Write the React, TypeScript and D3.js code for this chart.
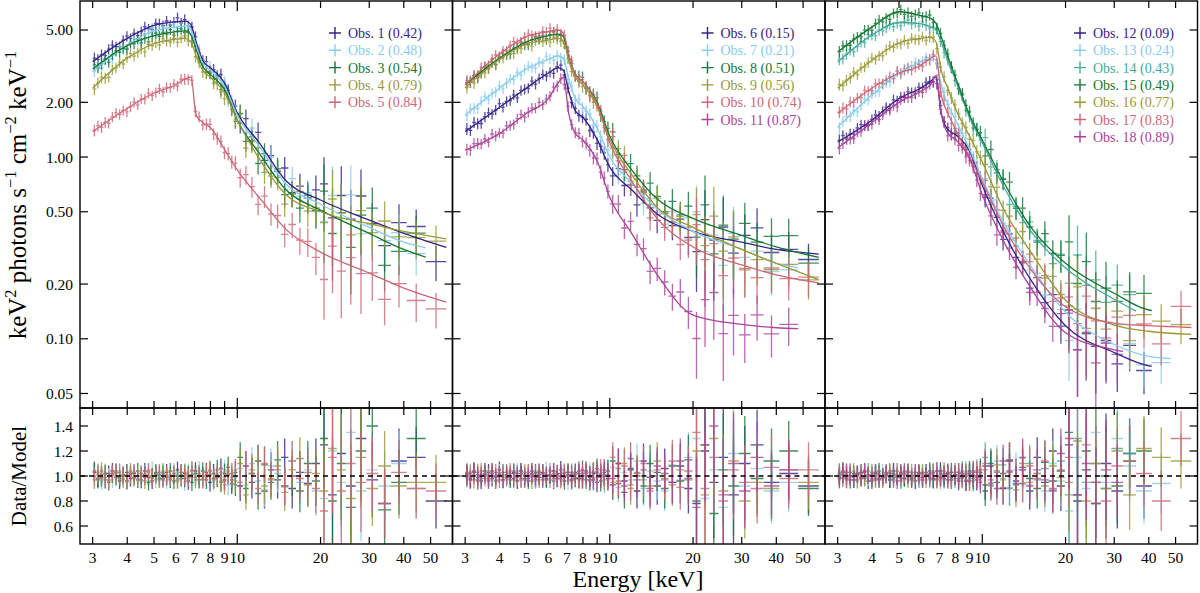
import React from 'react';
import * as d3 from 'd3';

const FONT = '"Liberation Serif", "DejaVu Serif", serif';

// energy bin edges (keV), shared by all observations
const binEdges = [
  3.00, 3.09, 3.18, 3.28, 3.38, 3.48, 3.59, 3.70, 3.81, 3.93, 4.05, 4.17, 4.30, 4.43, 4.56, 4.70,
  4.85, 5.00, 5.15, 5.31, 5.47, 5.64, 5.81, 5.99, 6.17, 6.36, 6.55, 6.75, 6.96, 7.17, 7.39, 7.62,
  7.85, 8.09, 8.34, 8.60, 8.86, 9.13, 9.41, 9.70, 10.0, 10.5, 11.0, 11.6, 12.2, 12.9, 13.6, 14.4,
  15.3, 16.3, 17.4, 18.6, 19.9, 21.3, 22.9, 24.7, 26.8, 29.3, 32.3, 36.0, 41.0, 48.0, 57.0,
];

// fractional error per bin
const relErr = [
  0.075, 0.07, 0.07, 0.07, 0.065, 0.065, 0.065, 0.065, 0.065, 0.065,
  0.065, 0.065, 0.065, 0.065, 0.065, 0.065, 0.065, 0.065, 0.065, 0.065,
  0.065, 0.065, 0.065, 0.065, 0.065, 0.07, 0.07, 0.07, 0.07, 0.07,
  0.07, 0.075, 0.075, 0.075, 0.08, 0.08, 0.08, 0.085, 0.085, 0.09,
  0.12, 0.12, 0.13, 0.13, 0.14, 0.14, 0.15, 0.15, 0.16, 0.17,
  0.18, 0.2, 0.4, 0.45, 0.45, 0.45, 0.4, 0.3, 0.28, 0.26,
  0.24, 0.22,
];

// energies where the model curves were read
const modelE = [3, 4, 5, 6, 6.5, 6.8, 7.1, 7.5, 8, 9, 10, 12, 15, 20, 30, 40, 60];

const model01 = [3.35, 4.5, 5.3, 5.55, 5.6, 5.35, 4.3, 3.4, 3.1, 2.55, 1.75, 1.2, 0.74, 0.58, 0.45, 0.38, 0.31];
const model02 = [2.95, 4.15, 4.95, 5.2, 5.25, 5.0, 4.1, 3.3, 3.0, 2.45, 1.7, 1.15, 0.71, 0.55, 0.41, 0.34, 0.29];
const model03 = [3.05, 4.1, 4.65, 4.9, 4.95, 4.7, 3.9, 3.15, 2.85, 2.35, 1.6, 1.05, 0.66, 0.51, 0.38, 0.31, 0.25];
const model04 = [2.39, 3.5, 4.2, 4.45, 4.5, 4.3, 3.6, 3.0, 2.75, 2.25, 1.6, 0.98, 0.62, 0.5, 0.43, 0.39, 0.35];
const model05 = [1.38, 1.85, 2.25, 2.5, 2.7, 2.75, 1.7, 1.55, 1.45, 1.1, 0.85, 0.6, 0.4, 0.3, 0.23, 0.19, 0.155];
const model06 = [1.38, 1.88, 2.4, 2.9, 3.1, 3.0, 2.3, 1.8, 1.65, 1.25, 0.88, 0.66, 0.48, 0.39, 0.34, 0.31, 0.29];
const model07 = [1.7, 2.4, 3.05, 3.45, 3.6, 3.5, 2.7, 2.1, 1.9, 1.45, 1.0, 0.72, 0.51, 0.39, 0.31, 0.26, 0.23];
const model08 = [2.5, 3.5, 4.3, 4.65, 4.75, 4.6, 3.6, 2.85, 2.6, 2.0, 1.3, 0.85, 0.58, 0.46, 0.37, 0.32, 0.275];
const model09 = [2.4, 3.45, 4.2, 4.4, 4.5, 4.35, 3.4, 2.75, 2.5, 1.9, 1.25, 0.8, 0.52, 0.41, 0.31, 0.26, 0.205];
const model10 = [2.5, 3.7, 4.6, 4.9, 5.0, 4.8, 3.7, 2.85, 2.6, 1.95, 1.2, 0.74, 0.45, 0.32, 0.255, 0.225, 0.2];
const model11 = [1.09, 1.35, 1.74, 2.1, 2.55, 2.75, 1.75, 1.35, 1.24, 0.95, 0.6, 0.38, 0.22, 0.135, 0.12, 0.115, 0.112];
const model12 = [1.21, 1.6, 2.1, 2.4, 2.6, 2.75, 1.75, 1.42, 1.33, 1.08, 0.7, 0.38, 0.21, 0.118, 0.084, 0.071, 0.065];
const model13 = [1.46, 2.2, 2.9, 3.35, 3.55, 3.4, 2.5, 1.95, 1.6, 1.1, 0.76, 0.43, 0.25, 0.14, 0.093, 0.08, 0.075];
const model14 = [3.33, 4.7, 5.5, 5.4, 5.2, 5.0, 4.3, 3.4, 2.65, 1.65, 1.2, 0.68, 0.39, 0.245, 0.165, 0.13, 0.115];
const model15 = [3.78, 5.2, 6.3, 6.0, 5.8, 5.45, 4.6, 3.6, 2.75, 1.7, 1.24, 0.72, 0.41, 0.26, 0.178, 0.144, 0.13];
const model16 = [2.39, 3.42, 4.24, 4.5, 4.55, 4.3, 3.0, 2.4, 1.85, 1.3, 0.94, 0.51, 0.3, 0.163, 0.119, 0.11, 0.105];
const model17 = [1.74, 2.4, 2.9, 3.2, 3.5, 3.6, 2.2, 1.75, 1.42, 1.0, 0.73, 0.41, 0.24, 0.15, 0.122, 0.118, 0.115];
const model18 = [1.12, 1.55, 2.0, 2.3, 2.5, 2.8, 1.75, 1.35, 1.25, 0.98, 0.62, 0.34, 0.19, 0.108, 0.087, 0.08, 0.075];

// data/model per bin (array length = number of bins of that observation)
const ratio01 = [
  1.03, 0.98, 1.01, 0.97, 1.02, 1.04, 0.99, 0.96, 1.01, 1.03, 0.98, 1.02, 0.97, 1.00, 1.04, 0.99, 0.96, 1.02, 1.01, 0.98,
  1.03, 0.97, 1.00, 1.05, 0.98, 1.02, 0.96, 1.01, 1.04, 0.97, 1.00, 1.03, 0.95, 1.02, 0.99, 1.06, 0.97, 1.01, 0.94, 1.03,
  0.92, 1.08, 0.95, 1.12, 0.88, 1.05, 0.97, 1.15, 0.90, 1.03, 0.94, 1.10, 1.25, 0.85, 1.18, 0.92, 1.30, 0.97, 0.78, 1.12,
  1.15, 0.80,
];
const ratio02 = [
  0.99, 1.02, 0.96, 1.03, 1.00, 0.97, 1.02, 1.04, 0.98, 0.95, 1.01, 1.03, 0.98, 0.96, 1.02, 1.00, 1.05, 0.97, 0.99, 1.03,
  0.96, 1.01, 1.04, 0.98, 1.00, 0.95, 1.03, 0.99, 1.02, 1.05, 0.97, 0.99, 1.04, 0.96, 1.02, 0.98, 1.05, 0.93, 1.02, 0.99,
  1.06, 0.93, 1.10, 0.96, 0.89, 1.08, 1.02, 0.91, 1.12, 0.95, 1.05, 0.88, 0.82, 1.20, 0.95, 1.35, 0.88, 1.05, 0.92, 1.10,
  0.90,
];
const ratio03 = [
  1.04, 0.97, 0.99, 1.02, 0.95, 1.01, 1.03, 0.98, 1.00, 0.96, 1.02, 0.99, 1.04, 0.97, 1.01, 0.95, 1.00, 1.03, 0.98, 1.02,
  0.99, 1.04, 0.96, 1.00, 1.03, 0.98, 1.01, 0.95, 1.02, 1.00, 1.04, 0.97, 1.01, 0.98, 1.05, 0.95, 1.02, 1.07, 0.97, 0.93,
  1.15, 0.90, 1.02, 0.86, 1.09, 0.95, 1.13, 0.92, 1.00, 0.88, 1.10, 0.96, 1.30, 0.80, 1.10, 0.75, 1.20, 1.40, 0.73, 0.95,
  1.30,
];
const ratio04 = [
  0.97, 1.01, 1.04, 0.99, 0.96, 1.02, 1.00, 1.03, 0.97, 1.01, 1.04, 0.98, 1.00, 1.02, 0.96, 1.03, 0.99, 1.01, 0.97, 1.04,
  1.00, 0.98, 1.02, 0.96, 1.01, 1.03, 0.99, 1.04, 0.97, 1.00, 0.98, 1.02, 1.05, 0.97, 1.01, 0.96, 0.93, 1.04, 1.02, 0.96,
  1.10, 0.85, 1.05, 1.12, 0.92, 0.98, 1.08, 0.87, 1.05, 1.14, 0.93, 1.02, 0.88, 1.22, 1.05, 0.82, 1.15, 0.90, 1.08, 0.92,
  0.95, 0.95,
];
const ratio05 = [
  1.00, 1.03, 0.98, 1.01, 0.97, 1.02, 1.04, 0.99, 1.01, 0.96, 1.00, 1.03, 0.97, 1.02, 0.99, 1.04, 0.98, 1.00, 1.03, 0.97,
  1.01, 0.99, 1.02, 0.97, 1.03, 1.00, 0.98, 1.05, 0.99, 1.02, 0.97, 1.01, 1.04, 0.98, 1.00, 1.03, 0.96, 1.02, 0.99, 1.05,
  0.95, 1.08, 1.02, 0.90, 1.10, 0.97, 1.05, 0.92, 1.12, 0.98, 1.03, 0.90, 0.72, 1.15, 0.88, 1.10, 0.95, 1.02, 0.78, 1.03,
  0.90, 0.88,
];
const ratio06 = [
  1.02, 0.97, 1.04, 0.99, 0.96, 1.01, 1.03, 0.98, 1.00, 1.05, 0.97, 1.01, 0.99, 1.03, 0.96, 1.02, 1.00, 0.98, 1.04, 0.97,
  1.01, 1.03, 0.98, 1.00, 0.96, 1.02, 1.05, 0.99, 1.01, 0.97, 1.03, 0.98, 1.00, 1.04, 0.97, 1.02, 0.95, 1.01, 1.03, 0.98,
  0.93, 1.10, 0.96, 1.05, 0.88, 1.12, 0.99, 0.92, 1.06, 0.95, 1.08, 0.90, 0.78, 1.20, 0.95, 1.15, 0.85, 1.10, 1.25, 0.95,
  1.02, 0.92,
];
const ratio07 = [
  0.98, 1.03, 1.00, 0.96, 1.02, 1.04, 0.97, 1.01, 0.99, 1.03, 0.96, 1.00, 1.02, 0.98, 1.04, 0.97, 1.01, 1.03, 0.99, 0.96,
  1.02, 0.98, 1.05, 1.00, 0.97, 1.01, 0.99, 1.03, 0.96, 1.02, 0.98, 1.04, 0.97, 1.00, 1.03, 0.96, 1.02, 0.99, 0.94, 1.04,
  1.07, 0.91, 1.03, 0.97, 1.12, 0.90, 1.04, 0.96, 0.88, 1.09, 0.97, 1.15, 1.30, 0.82, 1.05, 0.75, 1.18, 0.92, 1.06, 0.88,
  0.95,
];
const ratio08 = [
  1.01, 0.98, 1.03, 0.97, 1.00, 1.04, 0.98, 1.02, 0.96, 1.01, 1.03, 0.99, 0.97, 1.02, 1.00, 1.04, 0.98, 0.96, 1.01, 1.03,
  0.99, 1.02, 0.97, 1.01, 1.04, 0.98, 1.00, 0.96, 1.03, 1.01, 0.98, 1.02, 1.05, 0.97, 0.99, 1.03, 1.06, 0.96, 1.00, 1.04,
  1.12, 0.94, 0.87, 1.06, 1.00, 0.92, 1.10, 1.03, 0.90, 1.08, 0.96, 1.13, 0.80, 1.25, 0.70, 1.05, 0.92, 1.18, 0.98, 1.12,
  1.20, 0.90,
];
const ratio09 = [
  0.99, 1.02, 0.97, 1.03, 1.01, 0.98, 1.00, 1.04, 0.97, 1.02, 0.99, 1.01, 1.04, 0.97, 1.00, 0.98, 1.03, 1.01, 0.96, 1.02,
  1.04, 0.99, 1.01, 0.97, 1.02, 1.00, 0.98, 1.03, 1.00, 0.96, 1.02, 0.99, 0.97, 1.03, 1.00, 0.98, 1.04, 1.02, 0.97, 1.00,
  0.95, 1.06, 1.10, 0.90, 1.03, 0.97, 0.92, 1.12, 0.98, 0.93, 1.05, 0.97, 1.20, 0.85, 1.30, 0.88, 1.12, 0.80, 0.95, 0.90,
  1.05, 0.95,
];
const ratio10 = [
  1.03, 0.99, 1.01, 0.96, 1.04, 1.00, 0.98, 1.02, 1.03, 0.97, 1.01, 0.98, 1.02, 1.04, 0.99, 0.97, 1.01, 1.03, 1.00, 0.98,
  0.97, 1.02, 1.00, 1.04, 0.98, 1.01, 0.97, 1.02, 1.00, 1.03, 0.99, 0.97, 1.02, 1.00, 0.96, 1.03, 0.99, 1.05, 1.01, 0.97,
  1.15, 0.96, 1.08, 0.93, 1.02, 1.10, 0.88, 1.05, 0.97, 1.12, 0.91, 1.04, 1.35, 0.90, 1.15, 0.80, 1.05, 0.95, 0.90, 1.07,
  0.98, 1.05,
];
const ratio11 = [
  1.00, 0.97, 1.03, 1.01, 0.98, 1.02, 0.96, 1.04, 0.99, 1.01, 0.97, 1.03, 1.00, 0.98, 1.02, 1.04, 0.97, 1.00, 1.02, 0.99,
  1.03, 0.97, 1.01, 1.00, 1.04, 0.98, 1.02, 0.99, 1.03, 0.97, 1.01, 1.04, 0.98, 1.02, 1.00, 0.97, 1.03, 0.99, 1.05, 1.01,
  0.98, 1.10, 0.92, 1.14, 0.97, 1.05, 0.90, 1.08, 1.02, 0.95, 1.12, 0.98, 0.75, 1.25, 1.40, 0.85, 1.10, 0.88, 1.15, 0.92,
  1.05,
];
const ratio12 = [
  1.01, 1.04, 0.98, 1.00, 0.97, 1.02, 1.03, 0.99, 0.96, 1.01, 1.03, 0.98, 1.00, 1.02, 0.97, 1.04, 0.99, 1.01, 0.98, 1.03,
  1.00, 0.96, 1.02, 0.99, 1.03, 1.01, 0.97, 1.00, 1.04, 0.98, 1.02, 0.97, 1.01, 1.03, 0.99, 0.96, 1.02, 1.00, 0.97, 1.03,
  0.93, 1.08, 1.00, 0.90, 1.12, 0.96, 1.05, 0.88, 1.15, 0.95, 1.20, 0.92, 1.25, 0.80, 1.05, 0.95, 1.10, 0.88, 1.18, 0.92,
];
const ratio13 = [
  0.97, 1.01, 1.03, 0.99, 1.02, 0.96, 1.00, 1.04, 0.98, 1.02, 1.00, 0.97, 1.03, 1.01, 0.98, 1.00, 1.04, 0.97, 1.02, 0.99,
  1.01, 1.03, 0.98, 1.00, 1.02, 0.97, 1.03, 1.01, 0.96, 1.02, 1.00, 0.98, 1.03, 0.97, 1.01, 1.04, 0.98, 1.00, 1.05, 0.96,
  1.08, 0.95, 1.12, 0.98, 0.91, 1.05, 1.14, 0.93, 1.02, 0.88, 1.10, 0.96, 0.72, 1.15, 0.90, 1.35, 0.95, 1.30, 1.08, 0.88,
  0.94,
];
const ratio14 = [
  1.02, 0.99, 1.01, 1.03, 0.97, 1.00, 1.02, 0.98, 1.04, 1.00, 0.97, 1.02, 0.99, 1.01, 1.03, 0.98, 1.00, 0.96, 1.02, 1.04,
  0.99, 1.01, 0.97, 1.03, 1.00, 0.98, 1.02, 1.04, 0.99, 0.97, 1.01, 1.03, 0.98, 1.00, 1.04, 0.97, 1.02, 0.96, 1.03, 0.99,
  1.15, 0.92, 1.04, 1.09, 0.90, 1.00, 0.94, 1.10, 0.97, 1.06, 0.89, 1.12, 0.85, 1.30, 0.95, 1.10, 0.90, 1.22, 1.18,
];
const ratio15 = [
  0.99, 1.03, 1.00, 0.97, 1.02, 1.01, 0.98, 1.03, 1.00, 0.96, 1.02, 1.04, 0.99, 1.01, 0.97, 1.02, 1.00, 1.03, 0.98, 1.01,
  0.97, 1.00, 1.03, 0.99, 1.01, 1.04, 0.98, 0.97, 1.02, 1.00, 1.03, 0.99, 1.01, 0.96, 1.02, 1.00, 1.04, 0.98, 1.00, 1.05,
  0.88, 1.10, 0.95, 1.02, 1.13, 0.93, 1.07, 0.98, 0.90, 1.11, 0.96, 1.04, 1.35, 0.85, 1.20, 0.78, 1.00, 0.92, 1.12, 1.20,
];
const ratio16 = [
  1.03, 0.98, 1.01, 1.00, 1.04, 0.97, 1.02, 0.99, 1.01, 1.03, 0.98, 1.00, 0.97, 1.02, 1.04, 0.99, 1.01, 0.98, 1.02, 0.97,
  1.03, 1.00, 0.99, 1.02, 0.97, 1.01, 1.03, 0.98, 1.00, 1.02, 0.97, 1.00, 1.03, 1.01, 0.98, 1.02, 0.96, 1.04, 0.99, 1.01,
  1.05, 0.93, 1.09, 0.97, 1.03, 0.89, 1.10, 0.95, 1.02, 0.92, 1.08, 0.99, 0.95, 1.28, 0.80, 1.10, 0.90, 1.20, 0.85, 1.22,
  1.15, 1.12,
];
const ratio17 = [
  1.00, 1.02, 0.97, 1.03, 0.99, 1.01, 0.98, 1.04, 1.00, 0.97, 1.03, 1.01, 0.98, 1.00, 1.02, 0.97, 1.04, 0.99, 1.01, 1.03,
  0.98, 1.00, 1.02, 0.97, 1.01, 0.99, 1.03, 1.00, 0.98, 1.04, 1.01, 0.97, 1.00, 1.03, 0.99, 1.02, 0.96, 1.01, 1.04, 0.98,
  1.10, 0.94, 1.03, 0.91, 1.13, 1.00, 0.94, 1.08, 0.98, 1.12, 0.90, 1.05, 1.15, 0.85, 1.25, 0.95, 0.80, 1.08, 1.12, 1.02,
  0.80, 1.30,
];
const ratio18 = [
  0.98, 1.01, 1.03, 1.00, 0.97, 1.02, 0.99, 1.04, 1.01, 0.98, 1.02, 0.97, 1.00, 1.03, 0.99, 1.01, 0.96, 1.02, 1.04, 1.00,
  0.98, 1.03, 1.01, 0.97, 1.00, 1.02, 0.98, 1.04, 0.99, 1.01, 0.97, 1.03, 1.00, 0.98, 1.02, 0.96, 1.01, 1.03, 0.99, 0.95,
  1.08, 0.97, 0.90, 1.12, 1.04, 0.94, 1.15, 0.92, 1.05, 0.97, 0.88, 1.18, 1.30, 0.85, 1.10, 0.78, 1.05, 0.95,
];

const obsLabels = [
  'Obs. 1 (0.42)', 'Obs. 2 (0.48)', 'Obs. 3 (0.54)', 'Obs. 4 (0.79)', 'Obs. 5 (0.84)',
  'Obs. 6 (0.15)', 'Obs. 7 (0.21)', 'Obs. 8 (0.51)', 'Obs. 9 (0.56)', 'Obs. 10 (0.74)', 'Obs. 11 (0.87)',
  'Obs. 12 (0.09)', 'Obs. 13 (0.24)', 'Obs. 14 (0.43)', 'Obs. 15 (0.49)', 'Obs. 16 (0.77)', 'Obs. 17 (0.83)', 'Obs. 18 (0.89)',
];
const obsPanel = [0, 0, 0, 0, 0, 1, 1, 1, 1, 1, 1, 2, 2, 2, 2, 2, 2, 2];
const obsColors = [
  '#332288', '#88CCEE', '#117733', '#999933', '#CC6677',
  '#332288', '#88CCEE', '#117733', '#999933', '#CC6677', '#AA4499',
  '#332288', '#88CCEE', '#44AA99', '#117733', '#999933', '#CC6677', '#AA4499',
];
const models = [model01, model02, model03, model04, model05, model06, model07, model08, model09,
  model10, model11, model12, model13, model14, model15, model16, model17, model18];
const ratios = [ratio01, ratio02, ratio03, ratio04, ratio05, ratio06, ratio07, ratio08, ratio09,
  ratio10, ratio11, ratio12, ratio13, ratio14, ratio15, ratio16, ratio17, ratio18];

const xTicks = [3, 4, 5, 6, 7, 8, 9, 10, 20, 30, 40, 50];
const yTicks = [0.05, 0.1, 0.2, 0.5, 1, 2, 5];
const rTicks = [0.6, 0.8, 1.0, 1.2, 1.4];

// layout
const panelLeft = [80, 452.5, 825];
const panelWidth = 372.5;
const topY = 1;
const splitY = 408;
const bottomY = 544;

// model value at energy e, log-log between the read points
function modelAt(vals: number[], e: number) {
  let j = 0;
  while (j < modelE.length - 2 && e > modelE[j + 1]) j++;
  const t = (Math.log(e) - Math.log(modelE[j])) / (Math.log(modelE[j + 1]) - Math.log(modelE[j]));
  return Math.exp(Math.log(vals[j]) + t * (Math.log(vals[j + 1]) - Math.log(vals[j])));
}

const Panel: React.FC<{ index: number }> = ({ index }) => {
  const left = panelLeft[index];
  const right = left + panelWidth;
  const x = d3.scaleLog().domain([2.7, 60]).range([left, right]);
  const y = d3.scaleLog().domain([0.0416, 7.22]).range([splitY, topY]);
  const r = d3.scaleLinear().domain([0.456, 1.544]).range([bottomY, splitY]);

  const members = obsPanel.map((p, i) => (p === index ? i : -1)).filter(i => i >= 0);

  const obsData = members.map(i => {
    const vals = models[i];
    const rat = ratios[i];
    let top = '';
    let bot = '';
    rat.forEach((q, b) => {
      const lo = binEdges[b];
      const hi = binEdges[b + 1];
      const c = Math.sqrt(lo * hi);
      const m = modelAt(vals, c);
      const d = m * q;
      const e = relErr[b];
      top += `M${x(lo).toFixed(1)},${y(d).toFixed(1)}H${x(hi).toFixed(1)}` +
        `M${x(c).toFixed(1)},${y(d * (1 - e)).toFixed(1)}V${y(d * (1 + e)).toFixed(1)}`;
      bot += `M${x(lo).toFixed(1)},${r(q).toFixed(1)}H${x(hi).toFixed(1)}` +
        `M${x(c).toFixed(1)},${r(q - e).toFixed(1)}V${r(q + e).toFixed(1)}`;
    });
    const eEnd = binEdges[rat.length];
    const pts: [number, number][] = modelE
      .map((e, k) => [e, vals[k]] as [number, number])
      .filter(p => p[0] < eEnd);
    pts.push([eEnd, modelAt(vals, eEnd)]);
    const line = d3.line<[number, number]>()
      .x(p => x(p[0]))
      .y(p => y(p[1]))
      .curve(d3.curveMonotoneX)(pts) || '';
    return { i, top, bot, line };
  });

  const clipTop = `clipTop${index}`;
  const clipBot = `clipBot${index}`;

  return (
    <g>
      <defs>
        <clipPath id={clipTop}><rect x={left} y={topY} width={panelWidth} height={splitY - topY} /></clipPath>
        <clipPath id={clipBot}><rect x={left} y={splitY} width={panelWidth} height={bottomY - splitY} /></clipPath>
      </defs>

      <g clipPath={`url(#${clipTop})`}>
        {obsData.map(o => (
          <path key={'t' + o.i} d={o.top} fill="none" stroke={obsColors[o.i]} strokeWidth={1.3} strokeOpacity={0.82} />
        ))}
        {obsData.map(o => (
          <path key={'l' + o.i} d={o.line} fill="none" stroke={obsColors[o.i]} strokeWidth={1.3} />
        ))}
      </g>

      <g clipPath={`url(#${clipBot})`}>
        {obsData.map(o => (
          <path key={'b' + o.i} d={o.bot} fill="none" stroke={obsColors[o.i]} strokeWidth={1.3} strokeOpacity={0.82} />
        ))}
        <line x1={left} x2={right} y1={r(1)} y2={r(1)} stroke="#000" strokeWidth={1.3} strokeDasharray="5,4" />
      </g>

      {/* legend */}
      {members.map((i, k) => {
        const cy = 33 + k * 17.3;
        const mx = left + 255;
        return (
          <g key={'lg' + i}>
            <path d={`M${mx - 6},${cy}H${mx + 6}M${mx},${cy - 6}V${cy + 6}`} stroke={obsColors[i]} strokeWidth={1.4} />
            <text x={left + 268} y={cy + 5} fontSize={14} fill={obsColors[i]} fontFamily={FONT}>{obsLabels[i]}</text>
          </g>
        );
      })}

      {/* x ticks on all horizontal edges, inward */}
      {xTicks.map(t => {
        const len = t === 10 ? 10 : 7;
        const xx = x(t);
        return (
          <g key={'xt' + t} stroke="#000" strokeWidth={1.2}>
            <line x1={xx} x2={xx} y1={topY} y2={topY + len} />
            <line x1={xx} x2={xx} y1={splitY} y2={splitY - len} />
            <line x1={xx} x2={xx} y1={splitY} y2={splitY + len} />
            <line x1={xx} x2={xx} y1={bottomY} y2={bottomY - len} />
          </g>
        );
      })}
      {xTicks.map(t => (
        <text key={'xl' + t} x={x(t)} y={563} textAnchor="middle" fontSize={15.5} fontFamily={FONT}>{t}</text>
      ))}

      {/* y ticks */}
      {yTicks.map(t => (
        <g key={'yt' + t} stroke="#000" strokeWidth={1.2}>
          <line x1={left} x2={left + 8} y1={y(t)} y2={y(t)} />
          <line x1={right} x2={right - 8} y1={y(t)} y2={y(t)} />
        </g>
      ))}
      {rTicks.map(t => (
        <g key={'rt' + t} stroke="#000" strokeWidth={1.2}>
          <line x1={left} x2={left + 8} y1={r(t)} y2={r(t)} />
          <line x1={right} x2={right - 8} y1={r(t)} y2={r(t)} />
        </g>
      ))}
      {index === 0 && yTicks.map(t => (
        <text key={'yl' + t} x={left - 7} y={y(t) + 5.5} textAnchor="end" fontSize={15.5} fontFamily={FONT}>
          {d3.format('.2f')(t)}
        </text>
      ))}
      {index === 0 && rTicks.map(t => (
        <text key={'rl' + t} x={left - 7} y={r(t) + 5.5} textAnchor="end" fontSize={15.5} fontFamily={FONT}>
          {d3.format('.1f')(t)}
        </text>
      ))}

      {/* frames */}
      <rect x={left} y={topY} width={panelWidth} height={splitY - topY} fill="none" stroke="#000" strokeWidth={1.4} />
      <rect x={left} y={splitY} width={panelWidth} height={bottomY - splitY} fill="none" stroke="#000" strokeWidth={1.4} />
    </g>
  );
};

export default function App() {
  return (
    <svg width={1200} height={593} style={{ position: 'absolute', left: 0, top: 0, background: '#fff' }}
      fontFamily={FONT}>
      <rect x={0} y={0} width={1200} height={593} fill="#fff" />
      {[0, 1, 2].map(i => <Panel key={i} index={i} />)}
      <text transform="translate(26,195) rotate(-90)" textAnchor="middle" fontSize={25} fontFamily={FONT}>
        keV<tspan dy={-10} fontSize={16.5}>2</tspan>
        <tspan dy={10}> photons s</tspan><tspan dy={-10} fontSize={16.5}>−1</tspan>
        <tspan dy={10}> cm</tspan><tspan dy={-10} fontSize={16.5}>−2</tspan>
        <tspan dy={10}> keV</tspan><tspan dy={-10} fontSize={16.5}>−1</tspan>
      </text>
      <text transform="translate(26,476) rotate(-90)" textAnchor="middle" fontSize={21} fontFamily={FONT}>Data/Model</text>
      <text x={638} y={587} textAnchor="middle" fontSize={24} fontFamily={FONT}>Energy [keV]</text>
    </svg>
  );
}
